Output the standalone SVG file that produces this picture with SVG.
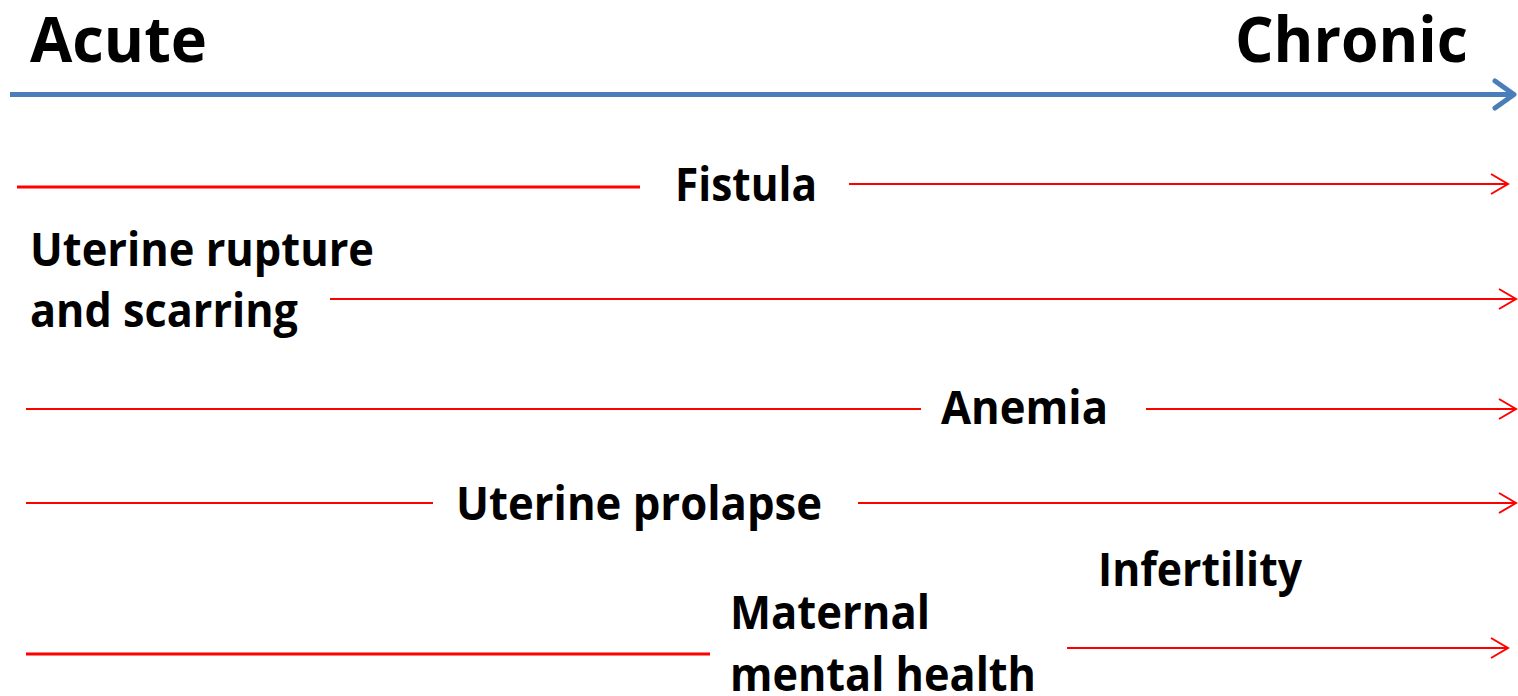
<svg xmlns="http://www.w3.org/2000/svg" width="1518" height="696" viewBox="0 0 1518 696">
<style>
  text { font-family: "Open Sans", "Liberation Sans", sans-serif; font-weight: bold; fill: #000; }
  .title { font-size: 62px; }
  .lbl { font-size: 46px; }
  .red { stroke: #ff0000; fill: none; }
  .axis { stroke: #4a7ebb; stroke-width: 5; fill: none; }
</style>
<defs>
  <marker id="redhead" markerUnits="userSpaceOnUse" markerWidth="30" markerHeight="30" refX="19" refY="12" orient="auto">
    <polyline points="2,2 19,12 2,22" fill="none" stroke="#ff0000" stroke-width="2"/>
  </marker>
</defs>
<rect width="1518" height="696" fill="#ffffff"/>
<g id="axis">
  <line class="axis" x1="10" y1="94.5" x2="1513" y2="94.5"/>
  <polyline class="axis" points="1495,81 1514,94.5 1495,108" stroke-linecap="round" stroke-linejoin="round"/>
</g>
<g id="acute"><text class="title" x="30" y="62" textLength="177" lengthAdjust="spacingAndGlyphs">Acute</text></g>
<g id="chronic"><text class="title" x="1235" y="62" textLength="233" lengthAdjust="spacingAndGlyphs">Chronic</text></g>
<g id="connectors">
  <line class="red" stroke-width="3" x1="17" y1="187" x2="640" y2="187"/>
  <line class="red" stroke-width="2" x1="849" y1="184" x2="1508" y2="184" marker-end="url(#redhead)"/>
  <line class="red" stroke-width="2" x1="330" y1="299" x2="1516" y2="299" marker-end="url(#redhead)"/>
  <line class="red" stroke-width="2" x1="26" y1="409" x2="921" y2="409"/>
  <line class="red" stroke-width="2" x1="1146" y1="409" x2="1516" y2="409" marker-end="url(#redhead)"/>
  <line class="red" stroke-width="2" x1="26" y1="503" x2="433" y2="503"/>
  <line class="red" stroke-width="2" x1="858" y1="503" x2="1516" y2="503" marker-end="url(#redhead)"/>
  <line class="red" stroke-width="3" x1="26" y1="654" x2="710" y2="654"/>
  <line class="red" stroke-width="2" x1="1067" y1="648" x2="1508" y2="648" marker-end="url(#redhead)"/>
</g>
<g id="fistula"><text class="lbl" x="675" y="201" textLength="142" lengthAdjust="spacingAndGlyphs">Fistula</text></g>
<g id="uterine-rupture">
  <text class="lbl" x="30" y="266" textLength="344" lengthAdjust="spacingAndGlyphs">Uterine rupture</text>
  <text class="lbl" x="30" y="327" textLength="268" lengthAdjust="spacingAndGlyphs">and scarring</text>
</g>
<g id="anemia"><text class="lbl" x="941" y="424" textLength="167" lengthAdjust="spacingAndGlyphs">Anemia</text></g>
<g id="uterine-prolapse"><text class="lbl" x="456" y="520" textLength="366" lengthAdjust="spacingAndGlyphs">Uterine prolapse</text></g>
<g id="infertility"><text class="lbl" x="1098" y="586" textLength="204" lengthAdjust="spacingAndGlyphs">Infertility</text></g>
<g id="maternal-mental-health">
  <text class="lbl" x="730" y="629" textLength="200" lengthAdjust="spacingAndGlyphs">Maternal</text>
  <text class="lbl" x="730" y="691" textLength="306" lengthAdjust="spacingAndGlyphs">mental health</text>
</g>
</svg>
